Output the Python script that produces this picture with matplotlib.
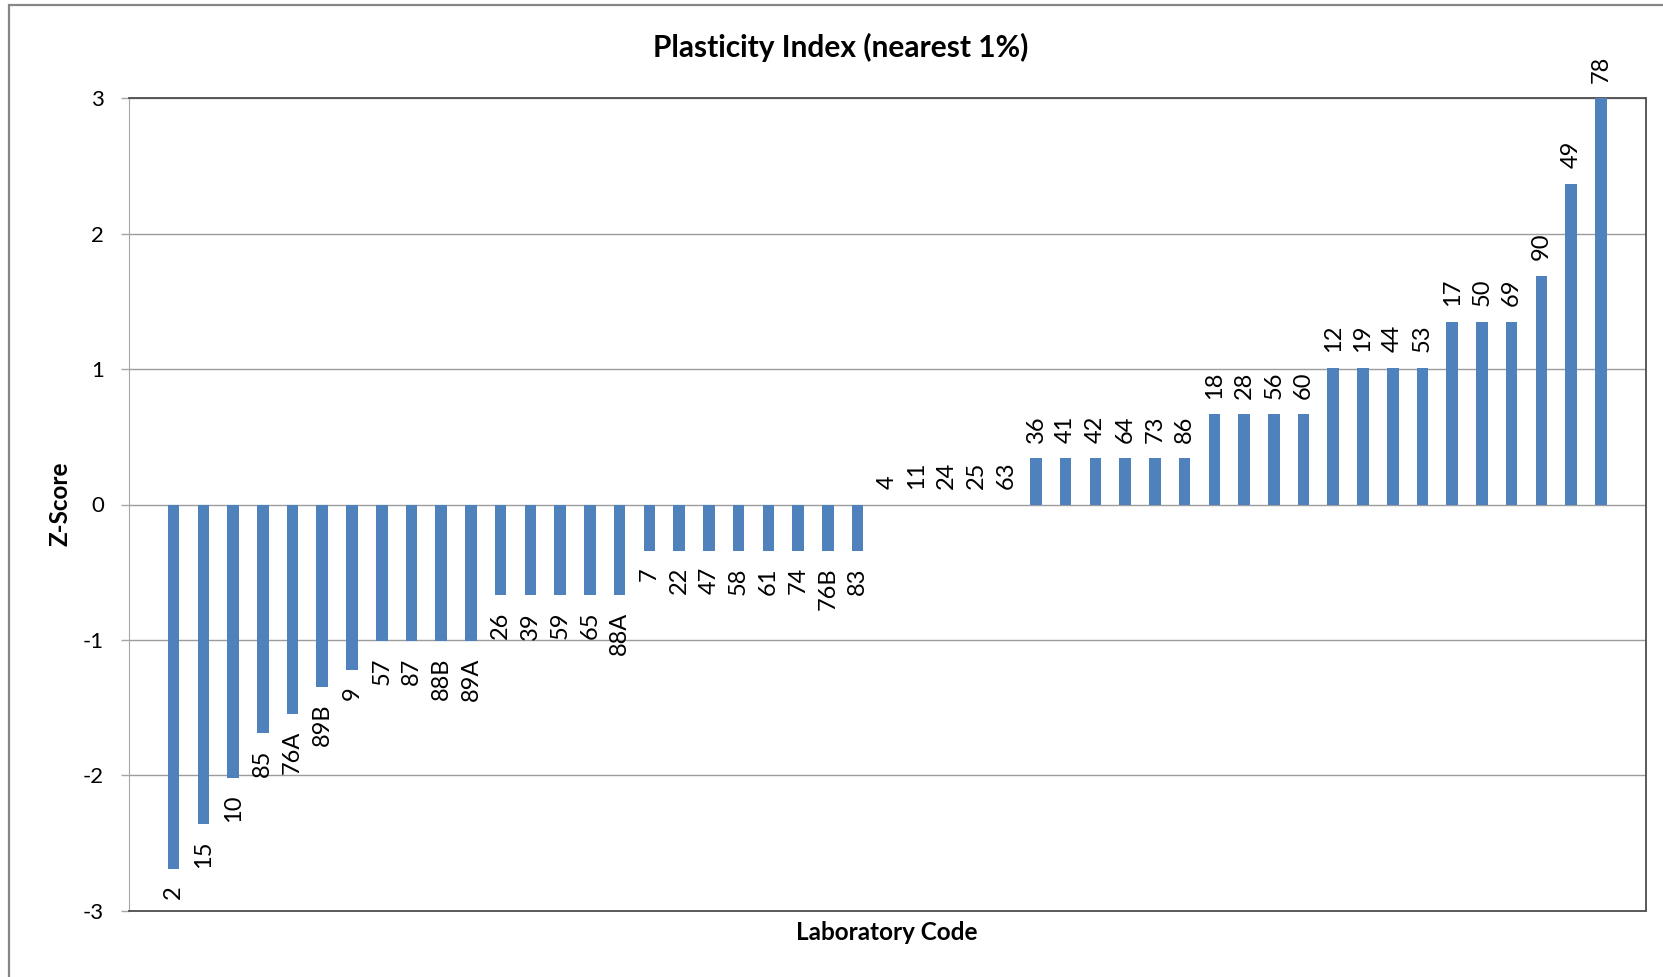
import numpy as np
import matplotlib
matplotlib.use("Agg")
import matplotlib.pyplot as plt
from matplotlib.patches import Rectangle

plt.rcParams['font.family'] = ['Lato', 'DejaVu Sans']

# laboratory codes, sorted by z-score as in the original chart
lab_codes = ['2', '15', '10', '85', '76A', '89B', '9', '57', '87', '88B', '89A',
             '26', '39', '59', '65', '88A', '7', '22', '47', '58', '61', '74',
             '76B', '83', '4', '11', '24', '25', '63', '36', '41', '42', '64',
             '73', '86', '18', '28', '56', '60', '12', '19', '44', '53', '17',
             '50', '69', '90', '49', '78']
z_scores = [-2.69, -2.36, -2.02, -1.69, -1.55, -1.35, -1.22, -1.01, -1.01, -1.01, -1.01,
            -0.67, -0.67, -0.67, -0.67, -0.67, -0.34, -0.34, -0.34, -0.34, -0.34, -0.34,
            -0.34, -0.34, 0.0, 0.0, 0.0, 0.0, 0.0, 0.34, 0.34, 0.34, 0.34,
            0.34, 0.34, 0.67, 0.67, 0.67, 0.67, 1.01, 1.01, 1.01, 1.01, 1.35,
            1.35, 1.35, 1.69, 2.37, 3.0]
y_ticks = [-3, -2, -1, 0, 1, 2, 3]

W, H = 1663, 977
fig = plt.figure(figsize=(W / 100, H / 100), dpi=100)

# outer chart border (runs off the right/bottom edge like the screenshot)
fig.patches.append(Rectangle((9 / W, -0.1), 1.2, 1 - 5 / H + 0.1,
                             transform=fig.transFigure, fill=False,
                             edgecolor='#868686', linewidth=1.6))

left, right, top, bottom = 129, 1645.5, 98.3, 910.7
ax = fig.add_axes([left / W, 1 - bottom / H, (right - left) / W, (bottom - top) / H])

x = np.arange(len(lab_codes))
ax.bar(x, z_scores, width=0.39, color='#4F81BD', zorder=3)

for xi, val, code in zip(x, z_scores, lab_codes):
    if val < 0:
        ax.annotate(code, (xi, val), xytext=(0, -12), textcoords='offset points',
                    rotation=90, ha='center', va='top', fontsize=17, color='black')
    else:
        ax.annotate(code, (xi, val), xytext=(0, 11), textcoords='offset points',
                    rotation=90, ha='center', va='bottom', fontsize=17, color='black',
                    annotation_clip=False)

ax.set_xlim(-1.5, 49.5)
ax.set_ylim(-3, 3)
ax.set_yticks(y_ticks)
ax.set_yticklabels([str(t) for t in y_ticks], fontsize=16)
ax.set_xticks([])
ax.tick_params(axis='y', length=6, width=1, color='#a6a6a6', pad=12)
ax.yaxis.grid(True, color='#9c9c9c', linewidth=1, zorder=0)
ax.set_axisbelow(True)

ax.spines['left'].set_color('#a6a6a6')
for side in ['top', 'right', 'bottom']:
    ax.spines[side].set_color('#4d4d4d')
    ax.spines[side].set_linewidth(1.3)

fig.text(841 / W, 1 - 47 / H, 'Plasticity Index (nearest 1%)', ha='center', va='center',
         fontsize=21.5, fontweight='bold')
fig.text(887 / W, 1 - 933 / H, 'Laboratory Code', ha='center', va='center',
         fontsize=17.5, fontweight='bold')
fig.text(60 / W, 1 - 504 / H, 'Z-Score', ha='center', va='center', rotation=90,
         fontsize=17.5, fontweight='bold')

fig.savefig('out.png', dpi=100)
